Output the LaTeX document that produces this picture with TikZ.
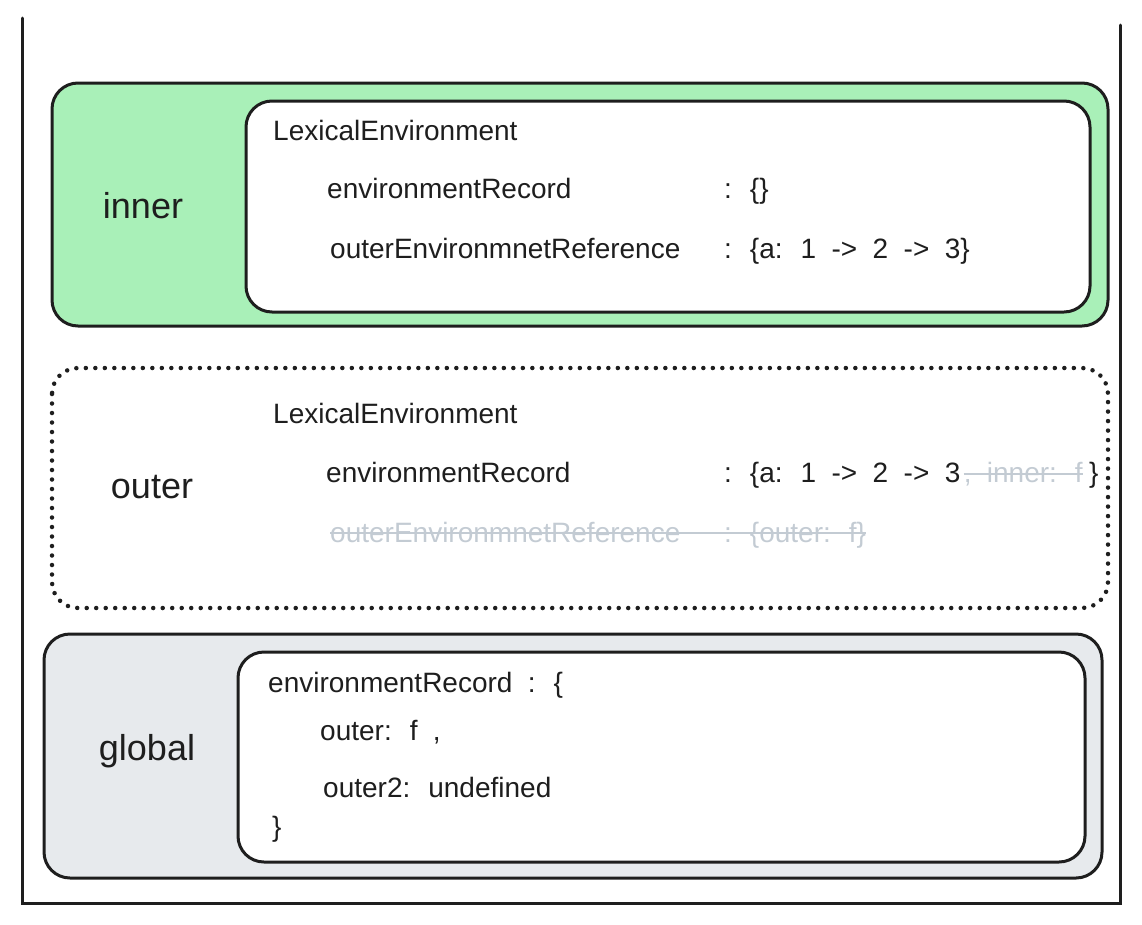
\documentclass[tikz,border=0pt]{standalone}
\usepackage{fontspec}
\setmainfont{Liberation Sans}
\usepackage{tikz}

\definecolor{ink}{HTML}{1E1E1E}
\definecolor{leafgreen}{HTML}{A9F0B8}
\definecolor{paleslate}{HTML}{E7EAED}
\definecolor{ghost}{HTML}{C3CBD3}
\newcommand\codefont{\fontsize{28}{32}\selectfont\spaceskip=0.55em plus 0.1em minus 0.05em\relax}

\begin{document}
\begin{tikzpicture}[x=1pt,y=-1pt,
	frame/.style={draw=ink, line width=3pt, line cap=round},
	envbox/.style={draw=ink, line width=3pt, rounded corners=26pt},
	dotbox/.style={draw=ink, line width=4.5pt, line cap=round, dash pattern=on 0pt off 9.5pt, rounded corners=26pt},
	scopename/.style={anchor=base, text=ink, font=\fontsize{36}{42}\selectfont},
	code/.style={anchor=base west, inner sep=0pt, text=ink, font=\codefont},
	gone/.style={code, text=ghost},
	strike/.style={draw=ghost, line width=2pt}]
	%\draw[help lines] (0,0) grid[step=50] (1142,924);
	\useasboundingbox (0,0) rectangle (1142,924);
	\draw[frame] (22,18)--(22,903)--(1120,903)--(1120,25);

	% inner
	\draw[envbox, fill=leafgreen] (52,83) rectangle (1108,326);
	\draw[envbox, fill=white] (246,101) rectangle (1090,312);
	\node[scopename] (innername) at (143,218) {inner};
	\node[code] (innerlex) at (273,140) {LexicalEnvironment};
	\node[code] (innerrec) at (327,198) {environmentRecord};
	\node[code] (innerrecval) at (724,198) {: \{\}};
	\node[code] (innerref) at (330,258) {outerEnvironmnetReference};
	\node[code] (innerrefval) at (724,258) {: \{a: 1 -> 2 -> 3\}};

	% outer
	\draw[dotbox] (52,368) rectangle (1108,608);
	\node[scopename] (outername) at (152,498) {outer};
	\node[code] (outerlex) at (273,423) {LexicalEnvironment};
	\node[code] (outerrec) at (326,482) {environmentRecord};
	\node[code] (outerrecval) at (724,482) {: \{a: 1 -> 2 -> 3};
	\node[gone] (outerdrop) at ([xshift=3pt]outerrecval.base east) {, inner: f};
	\node[code] (outerclose) at ([xshift=6pt]outerdrop.base east) {\}};
	\draw[strike] ([yshift=8pt]outerdrop.base west)--([yshift=8pt]outerdrop.base east);
	\node[gone] (outerref) at (330,542) {outerEnvironmnetReference};
	\node[gone] (outerrefval) at (724,542) {: \{outer: f\}};
	\draw[strike] ([yshift=9pt]outerref.base west)--([yshift=9pt]outerrefval.base east);

	% global
	\draw[envbox, fill=paleslate] (44,634) rectangle (1102,878);
	\draw[envbox, fill=white] (238,652) rectangle (1085,862);
	\node[scopename] (globalname) at (147,760) {global};
	\node[code] (globalrec) at (268,692) {environmentRecord : \{};
	\node[code] (globalouter) at (320,740) {outer: f ,};
	\node[code] (globalouter2) at (323,797) {outer2: undefined};
	\node[code] (globalclose) at (272,836) {\}};
\end{tikzpicture}
\end{document}
